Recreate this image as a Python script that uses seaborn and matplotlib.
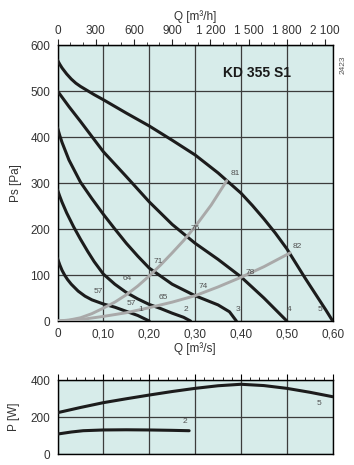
import matplotlib
matplotlib.use('Agg')
import numpy as np
import pandas as pd
import matplotlib.pyplot as plt
from matplotlib.ticker import MultipleLocator, FixedLocator
import seaborn as sns

## fan curves, Q [m3/s] vs Ps [Pa]
q_1 = [0.000, 0.005, 0.010, 0.016, 0.022, 0.030, 0.045, 0.060, 0.075, 0.100, 0.125, 0.150, 0.175, 0.200]
ps_1 = [136, 122, 110, 99, 90, 80, 65, 54, 46, 37, 30, 21, 12, 0]
q_2 = [0.000, 0.005, 0.010, 0.020, 0.035, 0.050, 0.066, 0.080, 0.100, 0.125, 0.150, 0.175, 0.200, 0.225, 0.250, 0.275, 0.290]
ps_2 = [285, 271, 258, 235, 205, 178, 151, 129, 102, 80, 62, 48, 36, 27, 17, 8, 0]
q_3 = [0.000, 0.005, 0.010, 0.025, 0.050, 0.075, 0.100, 0.125, 0.150, 0.175, 0.200, 0.250, 0.300, 0.350, 0.375, 0.390]
ps_3 = [420, 403, 388, 350, 302, 266, 232, 200, 169, 141, 115, 80, 55, 35, 20, 0]
q_4 = [0.000, 0.025, 0.050, 0.075, 0.100, 0.150, 0.200, 0.250, 0.300, 0.350, 0.400, 0.450, 0.500]
ps_4 = [500, 466, 434, 401, 368, 314, 259, 210, 169, 134, 96, 50, 0]
q_5 = [0.000, 0.005, 0.010, 0.020, 0.030, 0.040, 0.050, 0.065, 0.080, 0.100, 0.150, 0.200, 0.250, 0.300,
       0.350, 0.400, 0.425, 0.450, 0.475, 0.500, 0.520, 0.540, 0.555, 0.570, 0.585, 0.600]
ps_5 = [567, 558, 550, 537, 526, 517, 510, 501, 492, 481, 452, 424, 393, 361,
        322, 278, 251, 222, 191, 157, 125, 93, 70, 47, 24, 0]

## system curves
q_sys_a = [0.000, 0.025, 0.050, 0.075, 0.100, 0.125, 0.150, 0.175, 0.200, 0.225, 0.250, 0.275, 0.300, 0.335, 0.369]
ps_sys_a = [0, 2, 7, 16, 28, 41, 57, 76, 98, 122, 148, 175, 205, 252, 305]
q_sys_b = [0.000, 0.050, 0.100, 0.150, 0.200, 0.250, 0.300, 0.350, 0.400, 0.450, 0.507]
ps_sys_b = [0, 3, 10, 18, 29, 41, 55, 74, 95, 118, 148]

## power curves, P [W]
q_pw_2 = [0.000, 0.030, 0.056, 0.100, 0.150, 0.200, 0.250, 0.287]
p_pw_2 = [109, 120, 127, 131, 132, 131, 129, 127]
q_pw_5 = [0.000, 0.050, 0.100, 0.150, 0.200, 0.250, 0.300, 0.350, 0.400, 0.450, 0.500, 0.550, 0.600]
p_pw_5 = [224, 252, 278, 299, 319, 338, 355, 369, 377, 370, 355, 334, 310]

## operating point labels
pt_labels = ['81', '82', '78', '76', '74', '71', '64', '65', '57', '57', '1', '2', '3', '4', '5']
pt_q = [0.387, 0.523, 0.421, 0.300, 0.318, 0.219, 0.152, 0.231, 0.090, 0.160, 0.181, 0.279, 0.394, 0.505, 0.572]
pt_ps = [321, 163, 106, 201, 76, 129, 93, 51, 64, 37, 24, 24, 24, 24, 25]

q_ticks = [0, 0.1, 0.2, 0.3, 0.4, 0.5, 0.6]
q_tick_labels = ['0', '0,10', '0,20', '0,30', '0,40', '0,50', '0,60']
qh_ticks = [0, 300, 600, 900, 1200, 1500, 1800, 2100]
qh_tick_labels = ['0', '300', '600', '900', '1 200', '1 500', '1 800', '2 100']

sns.set_style('white')
plt.rcParams['font.family'] = ['Liberation Sans', 'DejaVu Sans']

bg = '#d7ecea'
grid_c = '#3c3c3c'
txt_c = '#333333'
fs = 8.5

fan = pd.concat([pd.DataFrame({'Q': q, 'Ps': p, 'curve': n})
                 for n, (q, p) in enumerate([(q_1, ps_1), (q_2, ps_2), (q_3, ps_3), (q_4, ps_4), (q_5, ps_5)])])
syst = pd.concat([pd.DataFrame({'Q': q, 'Ps': p, 'curve': n})
                  for n, (q, p) in enumerate([(q_sys_a, ps_sys_a), (q_sys_b, ps_sys_b)])])
power = pd.concat([pd.DataFrame({'Q': q, 'P': p, 'curve': n})
                   for n, (q, p) in enumerate([(q_pw_2, p_pw_2), (q_pw_5, p_pw_5)])])

fig = plt.figure(figsize=(3.54, 4.65), dpi=100)
ax = fig.add_axes([57.5 / 354, 1 - 321 / 465, 275.2 / 354, 276 / 465])
axp = fig.add_axes([57.5 / 354, 1 - 454.3 / 465, 275.2 / 354, 74.3 / 465])

def style(a):
    a.set_facecolor(bg)
    for s in a.spines.values():
        s.set_color('black')
        s.set_linewidth(1.0)
    a.tick_params(which='major', direction='out', length=4, width=0.8, color='black',
                  pad=1.2, labelsize=fs, labelcolor=txt_c)
    a.tick_params(which='minor', direction='out', length=2.5, width=0.6, color='black')

## main chart
style(ax)
sns.lineplot(data=fan, x='Q', y='Ps', units='curve', estimator=None, sort=False,
             color='#1c1c1c', lw=2.2, legend=False, ax=ax, zorder=3)
sns.lineplot(data=syst, x='Q', y='Ps', units='curve', estimator=None, sort=False,
             color='#a9a9a9', lw=2.1, legend=False, ax=ax, zorder=4)
ax.set_xlim(0, 0.6)
ax.set_ylim(0, 600)
ax.xaxis.set_major_locator(FixedLocator(q_ticks))
ax.set_xticklabels(q_tick_labels)
ax.xaxis.set_minor_locator(MultipleLocator(0.02))
ax.yaxis.set_major_locator(MultipleLocator(100))
ax.yaxis.set_minor_locator(MultipleLocator(20))
ax.grid(True, which='major', color=grid_c, lw=0.9)
ax.set_axisbelow(True)
ax.set_xlabel('Q [m³/s]', fontsize=fs, color=txt_c)
ax.set_ylabel('Ps [Pa]', fontsize=fs, color=txt_c)
ax.xaxis.set_label_coords(0.5, -0.075)
ax.yaxis.set_label_coords(-0.13, 0.5)

for lab, q, p in zip(pt_labels, pt_q, pt_ps):
    ax.text(q, p, lab, fontsize=6, color='#505050', ha='center', va='center', zorder=5)

ax.text(0.435, 540, 'KD 355 S1', fontsize=10, fontweight='bold', color='#1a1a1a',
        ha='center', va='center')

sec = ax.secondary_xaxis('top', functions=(lambda q: q * 3600, lambda h: h / 3600))
sec.xaxis.set_major_locator(FixedLocator(qh_ticks))
sec.set_xticklabels(qh_tick_labels)
sec.xaxis.set_minor_locator(MultipleLocator(100))
sec.tick_params(which='major', direction='out', length=4, width=0.8, pad=1.5,
                labelsize=fs, labelcolor=txt_c)
sec.tick_params(which='minor', direction='out', length=2.5, width=0.6)
sec.set_xlabel('Q [m³/h]', fontsize=fs, color=txt_c, labelpad=4)

fig.text(343 / 354, 1 - 65 / 465, '2423', rotation=90, fontsize=6, color='#555555',
         ha='center', va='center')

## power chart
style(axp)
sns.lineplot(data=power, x='Q', y='P', units='curve', estimator=None, sort=False,
             color='#1c1c1c', lw=2.2, legend=False, ax=axp, zorder=3)
axp.set_xlim(0, 0.6)
axp.set_ylim(0, 400)
axp.xaxis.set_major_locator(MultipleLocator(0.1))
axp.xaxis.set_minor_locator(MultipleLocator(0.02))
axp.yaxis.set_major_locator(MultipleLocator(200))
axp.yaxis.set_minor_locator(MultipleLocator(50))
axp.tick_params(axis='x', which='both', top=True, bottom=False, labelbottom=False)
axp.grid(True, which='major', color=grid_c, lw=0.9)
axp.set_axisbelow(True)
axp.set_xlabel('')
axp.set_ylabel('P [W]', fontsize=fs, color=txt_c)
axp.yaxis.set_label_coords(-0.135, 0.5)
axp.text(0.278, 179, '2', fontsize=6, color='#505050', ha='center', va='center')
axp.text(0.571, 274, '5', fontsize=6, color='#505050', ha='center', va='center')

fig.savefig('out.png', dpi=100, facecolor='white')
